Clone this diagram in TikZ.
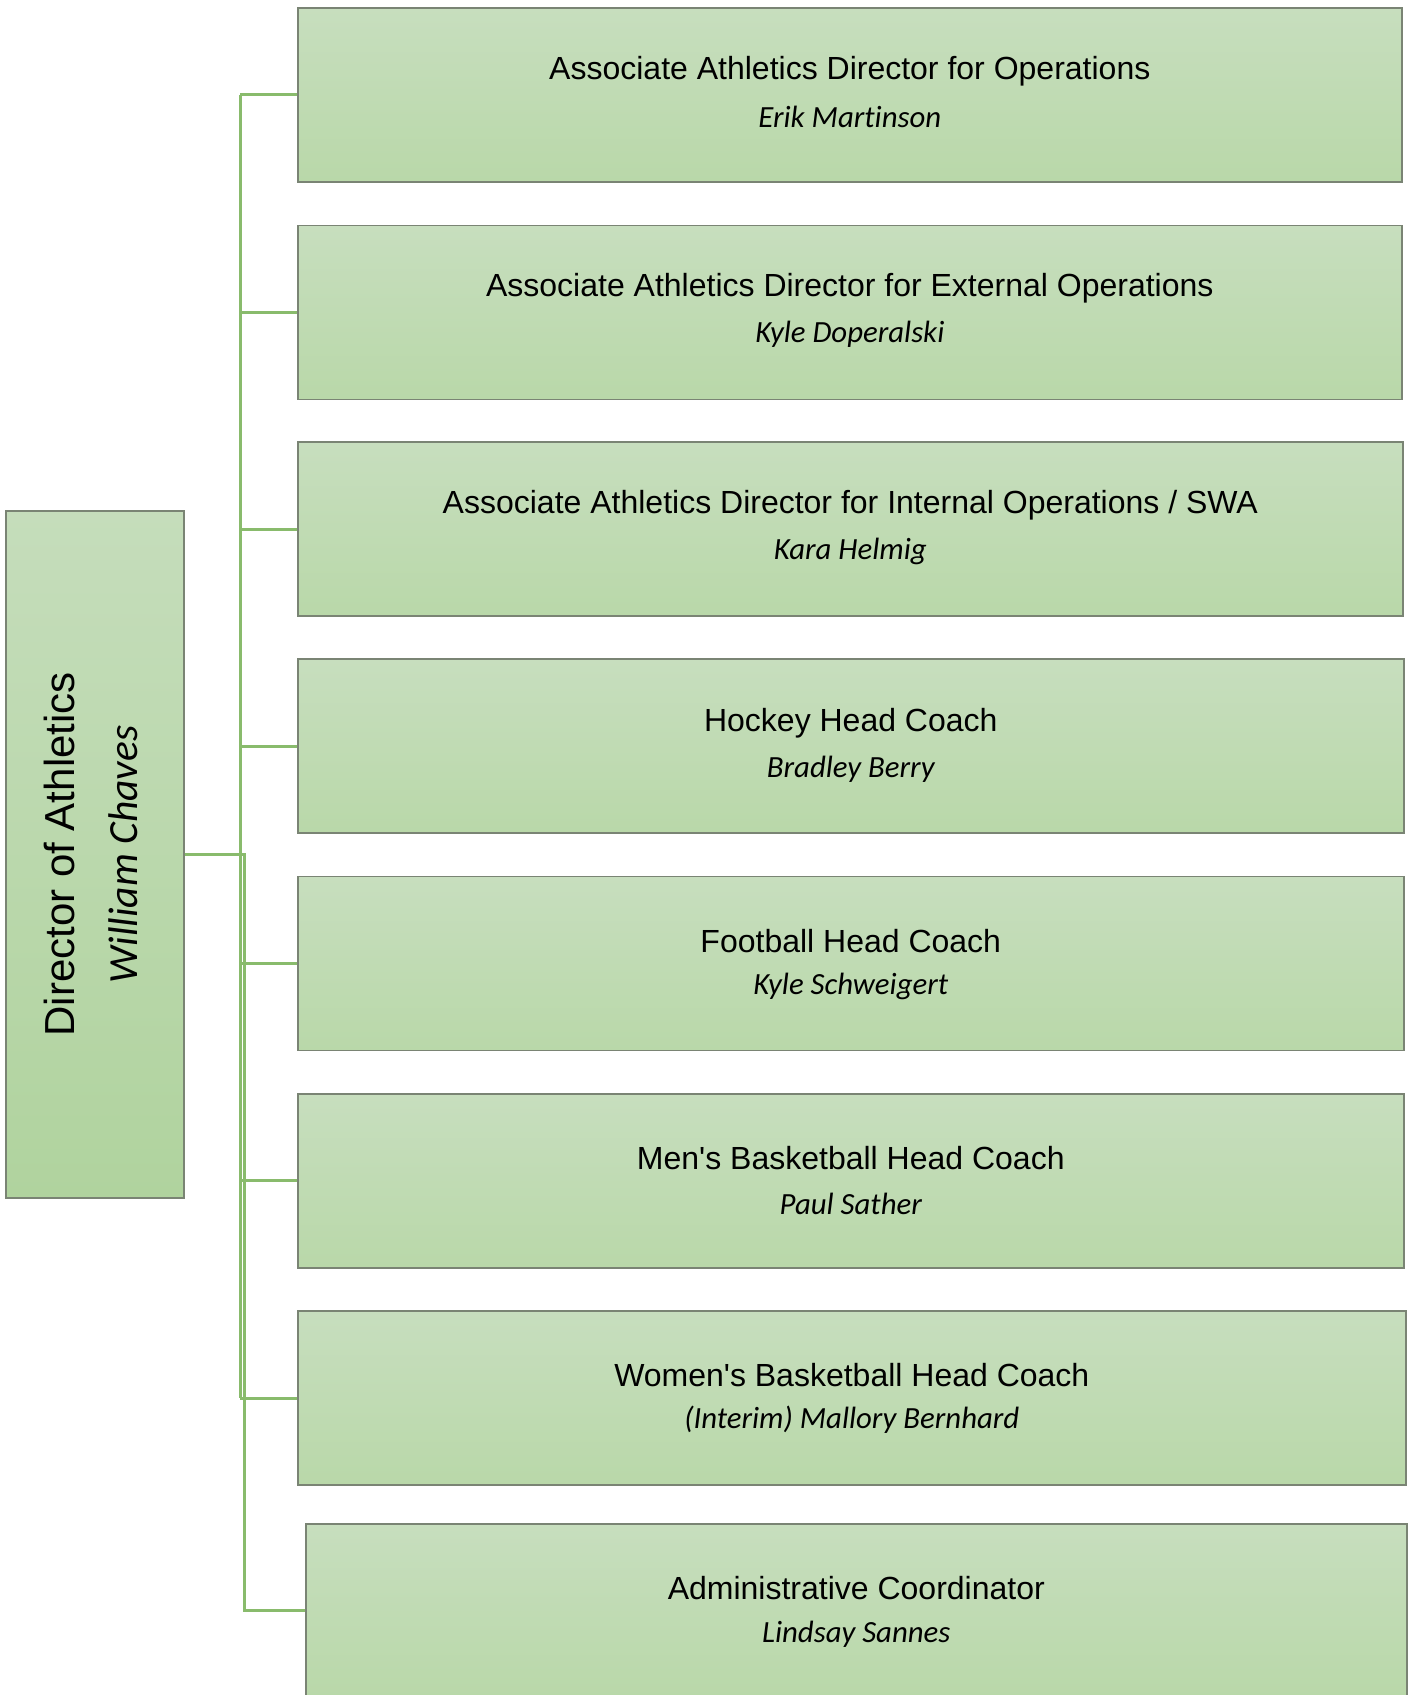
\documentclass[tikz,border=0pt]{standalone}
\usepackage{fontspec}
\setmainfont{Liberation Sans}[Ligatures=TeXOff]
\newfontfamily\namefont[Ligatures={NoCommon}]{Carlito}
\usetikzlibrary{calc}
\definecolor{boxline}{RGB}{122,132,116}
\definecolor{linkgreen}{RGB}{137,187,108}
\definecolor{fillTop}{RGB}{199,222,190}
\definecolor{fillBot}{RGB}{185,216,169}
\definecolor{dirTop}{RGB}{197,221,187}
\definecolor{dirBot}{RGB}{176,211,158}
\begin{document}
\begin{tikzpicture}[x=1pt,y=-1pt,
  card/.style={draw=boxline, line width=1.6pt, top color=fillTop, bottom color=fillBot,
    inner sep=0pt, anchor=north west, minimum height=174pt},
  role/.style={font=\fontsize{32}{38}\selectfont, text=black, inner sep=0pt},
  person/.style={font=\namefont\itshape\fontsize{30.8}{36}\selectfont, text=black, inner sep=0pt},
  link/.style={draw=linkgreen, line width=3pt}]
\useasboundingbox (0,0) rectangle (1411,1695);
\clip (0,0) rectangle (1411,1695);

% head of the department
\node[draw=boxline, line width=1.6pt, top color=dirTop, bottom color=dirBot, inner sep=0pt,
  anchor=north west, minimum width=178pt, minimum height=687pt] (dir) at (5,510) {};
\node[rotate=90, font=\fontsize{42}{50}\selectfont, inner sep=0pt] (dirT) at ([xshift=-35pt]dir.center) {Director of Athletics};
\node[rotate=90, font=\namefont\itshape\fontsize{41.5}{50}\selectfont, inner sep=0pt] (dirN) at ([xshift=28pt]dir.center) {William Chaves};

% direct reports
\node[card, minimum width=1104pt] (b1) at (297,7) {};
\node[card, minimum width=1104pt] (b2) at (297,224.6) {};
\node[card, minimum width=1105pt] (b3) at (297,441.4) {};
\node[card, minimum width=1106pt] (b4) at (297,658.4) {};
\node[card, minimum width=1106pt] (b5) at (297,875.8) {};
\node[card, minimum width=1106pt] (b6) at (297,1093.1) {};
\node[card, minimum width=1108pt] (b7) at (297,1310.4) {};
\node[card, minimum width=1101pt] (b8) at (305,1523) {};

\node[role]   (t1) at ([yshift=24pt]b1.center)  {Associate Athletics Director for Operations};
\node[person] (n1) at ([yshift=-22pt]b1.center) {Erik Martinson};
\node[role]   (t2) at ([yshift=24pt]b2.center)  {Associate Athletics Director for External Operations};
\node[person] (n2) at ([yshift=-22pt]b2.center) {Kyle Doperalski};
\node[role]   (t3) at ([yshift=24pt]b3.center)  {Associate Athletics Director for Internal Operations / SWA};
\node[person] (n3) at ([yshift=-22pt]b3.center) {Kara Helmig};
\node[role]   (t4) at ([yshift=23pt]b4.center)  {Hockey Head Coach};
\node[person] (n4) at ([yshift=-23pt]b4.center) {Bradley Berry};
\node[role]   (t5) at ([yshift=23pt]b5.center)  {Football Head Coach};
\node[person] (n5) at ([yshift=-23pt]b5.center) {Kyle Schweigert};
\node[role]   (t6) at ([yshift=23pt]b6.center)  {Men's Basketball Head Coach};
\node[person] (n6) at ([yshift=-23pt]b6.center) {Paul Sather};
\node[role]   (t7) at ([yshift=23pt]b7.center)  {Women's Basketball Head Coach};
\node[person] (n7) at ([yshift=-22pt]b7.center) {(Interim) Mallory Bernhard};
\node[role]   (t8) at ([yshift=23pt]b8.center)  {Administrative Coordinator};
\node[person] (n8) at ([yshift=-23pt]b8.center) {Lindsay Sannes};

% reporting lines
\coordinate (spineA) at (240,0);
\coordinate (spineB) at (244,0);
\draw[link] (spineA |- b1.west) -- (spineA |- b7.west);
\draw[link] (dir.east) -- (dir.east -| spineA);
\foreach \b in {b1,b2,b3,b4,b5,b6,b7}
  \draw[link] (spineA |- \b.west) -- (\b.west);
\draw[link] (dir.east) -| (spineB |- b8.west) -- (b8.west);
\end{tikzpicture}
\end{document}
